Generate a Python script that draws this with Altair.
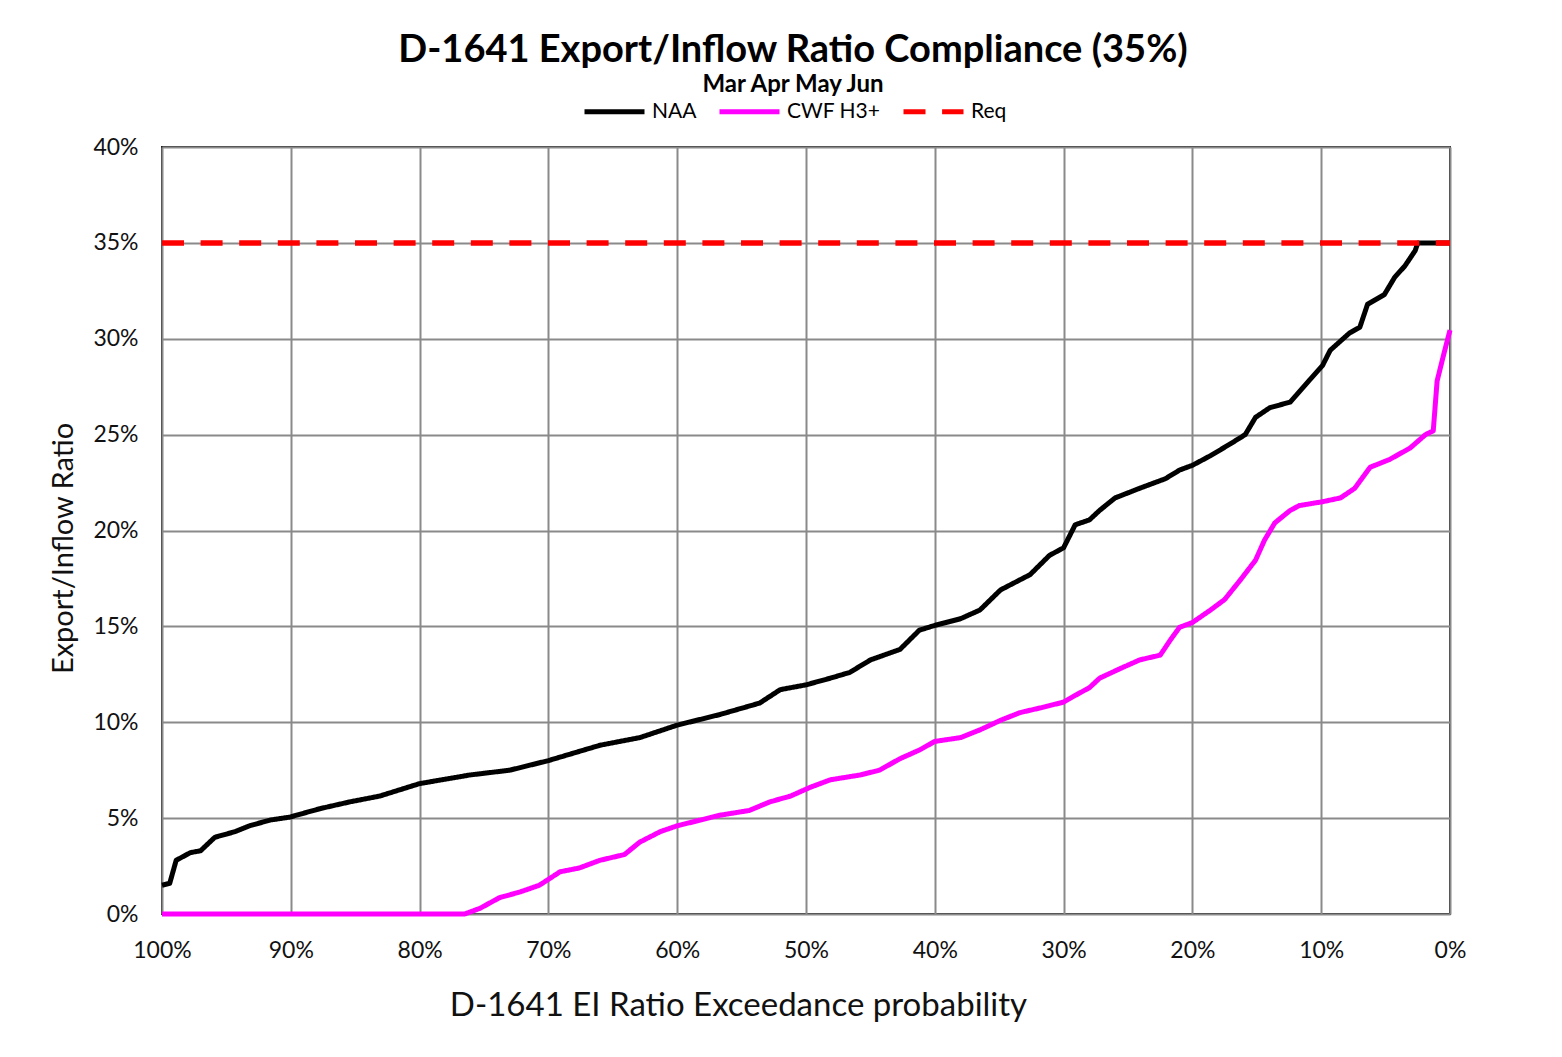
import altair as alt
import pandas as pd

# Exceedance probability (%) and Export/Inflow ratio (%)
naa_p = [100, 99.4, 98.9, 97.8, 97.0, 95.9, 94.3, 93.2, 91.6, 90.1, 87.7, 85.4, 83.1, 80.0,
         76.1, 73.0, 70.0, 66.0, 62.9, 60.0, 56.7, 53.6, 52.0, 50.0, 48.1, 46.6, 45.0, 42.7,
         41.2, 40.0, 38.0, 36.5, 34.9, 32.6, 31.1, 30.0, 29.1, 28.0, 27.2, 26.0, 24.1, 22.1,
         21.0, 20.0, 18.6, 17.1, 15.9, 15.1, 14.0, 12.4, 10.9, 9.9, 9.3, 7.8, 7.0, 6.4, 5.1,
         4.3, 3.5, 2.7, 2.5, 0]
naa_v = [1.5, 1.6, 2.8, 3.2, 3.3, 4.0, 4.3, 4.6, 4.9, 5.05, 5.5, 5.85, 6.15, 6.8,
         7.25, 7.5, 8.0, 8.8, 9.2, 9.85, 10.4, 11.0, 11.7, 11.95, 12.3, 12.6, 13.25, 13.8,
         14.8, 15.05, 15.4, 15.85, 16.9, 17.7, 18.7, 19.1, 20.3, 20.55, 21.05, 21.7, 22.2, 22.7,
         23.15, 23.4, 23.9, 24.5, 25.0, 25.9, 26.4, 26.7, 27.85, 28.6, 29.4, 30.3, 30.6, 31.8, 32.3,
         33.2, 33.8, 34.6, 35.0, 35.0]

cwf_p = [100, 76.5, 75.3, 73.8, 72.2, 70.7, 69.1, 67.6, 66.0, 64.1, 62.9, 61.3, 60.0, 58.2,
         56.7, 54.4, 52.8, 51.2, 49.7, 48.1, 45.8, 44.3, 42.7, 41.2, 40.0, 38.0, 36.5, 34.9,
         33.4, 31.8, 30.0, 29.1, 28.0, 27.2, 25.6, 24.1, 22.5, 21.7, 21.0, 20.0, 18.6, 17.5,
         16.3, 15.1, 14.4, 13.6, 12.4, 11.7, 9.9, 8.5, 7.4, 6.2, 4.7, 3.1, 1.9, 1.3, 1.0, 0.5, 0]
cwf_v = [0, 0, 0.3, 0.85, 1.15, 1.5, 2.2, 2.4, 2.8, 3.1, 3.75, 4.3, 4.6, 4.9,
         5.15, 5.4, 5.85, 6.15, 6.6, 7.0, 7.25, 7.5, 8.1, 8.55, 9.0, 9.2, 9.6, 10.1,
         10.5, 10.75, 11.05, 11.4, 11.8, 12.3, 12.8, 13.25, 13.5, 14.3, 14.95, 15.2, 15.85, 16.4,
         17.4, 18.45, 19.5, 20.4, 21.05, 21.3, 21.5, 21.7, 22.2, 23.3, 23.7, 24.3, 25.0, 25.2, 27.8, 29.15, 30.45]

req_p = [100, 0]
req_v = [35, 35]

series_names = ["NAA", "CWF H3+", "Req"]
series_colors = ["#000000", "#FF00FF", "#FF0000"]
series_dashes = [[1, 0], [1, 0], [22, 16.6]]

x_ticks = [0, 10, 20, 30, 40, 50, 60, 70, 80, 90, 100]
y_ticks = [0, 5, 10, 15, 20, 25, 30, 35, 40]

frames = []
for name, ps, vs in [("NAA", naa_p, naa_v), ("CWF H3+", cwf_p, cwf_v), ("Req", req_p, req_v)]:
    frames.append(pd.DataFrame({"series": name, "p": ps, "v": vs, "idx": range(len(ps))}))
df = pd.concat(frames, ignore_index=True)

FONT = "Lato"

legend = alt.Legend(title=None, orient="none", legendX=420, legendY=-68,
                    direction="horizontal", symbolType="stroke",
                    symbolSize=3600, symbolStrokeWidth=5,
                    labelFontSize=21, labelFont=FONT, labelOffset=5,
                    columnPadding=12, labelColor="#000000")

enc = dict(
    x=alt.X("p:Q",
            scale=alt.Scale(domain=[0, 100], reverse=True, nice=False),
            axis=alt.Axis(values=x_ticks, labelExpr="datum.value + '%'", labelFlush=False,
                          title="D-1641 EI Ratio Exceedance probability",
                          titleX=576, titleY=91, titleBaseline="middle", titleAlign="center",
                          titleAnchor="start")),
    y=alt.Y("v:Q",
            scale=alt.Scale(domain=[0, 40], nice=False),
            axis=alt.Axis(values=y_ticks, labelExpr="datum.value + '%'",
                          title="Export/Inflow Ratio",
                          titleX=-99, titleY=401, titleAngle=270, titleBaseline="middle",
                          titleAlign="center", titleAnchor="start")),
    color=alt.Color("series:N",
                    scale=alt.Scale(domain=series_names, range=series_colors),
                    legend=legend),
    strokeDash=alt.StrokeDash("series:N",
                              scale=alt.Scale(domain=series_names, range=series_dashes),
                              legend=legend),
    order=alt.Order("idx:Q"),
)

base = alt.Chart(df)
curves = base.transform_filter(alt.datum.series != "Req").mark_line(
    strokeWidth=5, strokeJoin="round").encode(**enc)
req = base.transform_filter(alt.datum.series == "Req").mark_line(
    strokeWidth=5.5).encode(**enc)

chart = alt.layer(curves, req).properties(
    width=1288,
    height=767,
    autosize=alt.AutoSizeParams(type="none"),
    padding={"left": 154, "top": 139, "right": 100, "bottom": 130},
    title=alt.TitleParams(text="D-1641 Export/Inflow Ratio Compliance (35%)",
                          subtitle="Mar Apr May Jun",
                          font=FONT, fontSize=38, fontWeight="bold", color="#000000",
                          subtitleFont=FONT, subtitleFontSize=24, subtitleFontWeight="bold",
                          subtitleColor="#000000", subtitlePadding=3,
                          anchor="middle", dx=-13, offset=-18),
).configure(
    background="white"
).configure_axis(
    grid=True, gridColor="#8a8a8a", gridWidth=2,
    domain=False, ticks=False,
    labelFont=FONT, labelFontSize=23, labelColor="#111111",
    titleFont=FONT, titleFontWeight="normal", titleColor="#111111",
).configure_axisX(
    labelPadding=25, titleFontSize=33,
).configure_axisY(
    labelPadding=24, titleFontSize=29,
).configure_view(
    stroke="#222222", strokeWidth=2,
)

chart.save("out.html", embed_options={"renderer": "svg", "actions": False})
